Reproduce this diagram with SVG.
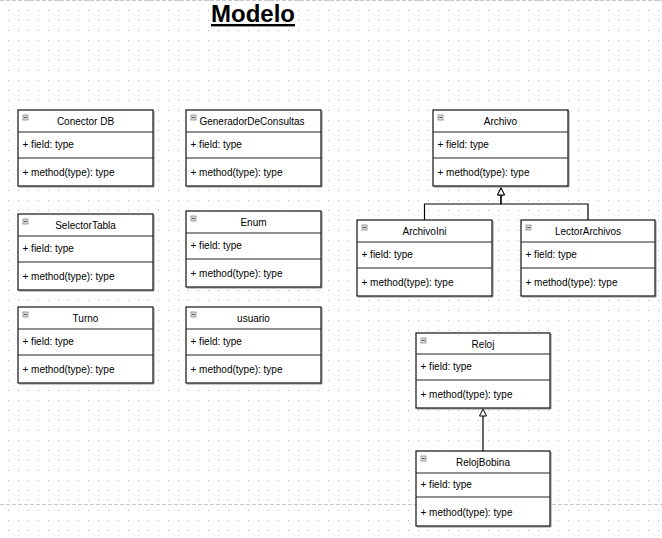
<svg xmlns="http://www.w3.org/2000/svg" width="662" height="538" viewBox="0 0 662 538">
<style>
.box{fill:#fff;stroke:#111;stroke-width:1.2}
.shadow{fill:none;stroke:#8c8c8c;stroke-width:1}
.sep{stroke:#222;stroke-width:1}
.ico{fill:#dcdcdc;stroke:#8a8a8a;stroke-width:0.8}
.icol{stroke:#5a5a5a;stroke-width:1}
.name{font-family:"Liberation Sans",Arial,sans-serif;font-size:10px;fill:#000;text-anchor:middle}
.mem{font-family:"Liberation Sans",Arial,sans-serif;font-size:10px;fill:#000}
.conn{fill:none;stroke:#000;stroke-width:1.2}
.dash{stroke:#c8c8c8;stroke-width:1;stroke-dasharray:4 2}
</style>
<defs>
<pattern id="grid" x="8" y="0" width="10" height="10" patternUnits="userSpaceOnUse">
<rect x="0" y="0" width="1" height="1" fill="#b4b4b4"/>
</pattern>
<marker id="gen" viewBox="0 0 8 8" refX="8" refY="4" markerWidth="8" markerHeight="8" markerUnits="userSpaceOnUse" orient="auto">
<path d="M0.5,0.5 L7.5,4 L0.5,7.5 Z" fill="#fff" stroke="#000" stroke-width="1"/>
</marker>
</defs>
<rect width="662" height="538" fill="#fff"/>
<rect width="662" height="538" fill="url(#grid)"/>
<line class="dash" x1="0" y1="0.5" x2="662" y2="0.5"/>
<line class="dash" x1="0" y1="504.5" x2="662" y2="504.5"/>
<text x="253" y="22" font-family="'Liberation Sans',Arial,sans-serif" font-size="24" font-weight="bold" text-anchor="middle" text-decoration="underline">Modelo</text>

<g id="connectors">
<path class="conn" d="M424.5,220 V204 H501 V187.5" marker-end="url(#gen)"/>
<path class="conn" d="M588,220 V204 H501 V187.5" marker-end="url(#gen)"/>
<path class="conn" d="M483,451 V408.5" marker-end="url(#gen)"/>
</g>

<g id="ConectorDB">
<polyline class="shadow" points="154,111 154,187 19,187"/>
<rect class="box" x="18" y="110" width="135" height="76"/>
<line class="sep" x1="18" y1="132" x2="153" y2="132"/><line class="sep" x1="18" y1="158" x2="153" y2="158"/>
<rect class="ico" x="23" y="115" width="5" height="5"/><line class="icol" x1="24" y1="117.5" x2="27" y2="117.5"/>
<text class="name" x="85.5" y="125">Conector DB</text>
<text class="mem" x="22.5" y="148">+ field: type</text>
<text class="mem" x="22.5" y="176">+ method(type): type</text>
</g>

<g id="GeneradorDeConsultas">
<polyline class="shadow" points="322,111 322,187 187,187"/>
<rect class="box" x="186" y="110" width="135" height="76"/>
<line class="sep" x1="186" y1="132" x2="321" y2="132"/><line class="sep" x1="186" y1="158" x2="321" y2="158"/>
<rect class="ico" x="191" y="115" width="5" height="5"/><line class="icol" x1="192" y1="117.5" x2="195" y2="117.5"/>
<text class="name" x="252" y="125">GeneradorDeConsultas</text>
<text class="mem" x="190.5" y="148">+ field: type</text>
<text class="mem" x="190.5" y="176">+ method(type): type</text>
</g>

<g id="SelectorTabla">
<polyline class="shadow" points="154,215 154,291 19,291"/>
<rect class="box" x="18" y="214" width="135" height="76"/>
<line class="sep" x1="18" y1="236" x2="153" y2="236"/><line class="sep" x1="18" y1="262" x2="153" y2="262"/>
<rect class="ico" x="23" y="219" width="5" height="5"/><line class="icol" x1="24" y1="221.5" x2="27" y2="221.5"/>
<text class="name" x="85.5" y="229">SelectorTabla</text>
<text class="mem" x="22.5" y="252">+ field: type</text>
<text class="mem" x="22.5" y="280">+ method(type): type</text>
</g>

<g id="Enum">
<polyline class="shadow" points="322,212 322,288 187,288"/>
<rect class="box" x="186" y="211" width="135" height="76"/>
<line class="sep" x1="186" y1="233" x2="321" y2="233"/><line class="sep" x1="186" y1="259" x2="321" y2="259"/>
<rect class="ico" x="191" y="216" width="5" height="5"/><line class="icol" x1="192" y1="218.5" x2="195" y2="218.5"/>
<text class="name" x="253.5" y="226">Enum</text>
<text class="mem" x="190.5" y="249">+ field: type</text>
<text class="mem" x="190.5" y="277">+ method(type): type</text>
</g>

<g id="Turno">
<polyline class="shadow" points="154,308 154,384 19,384"/>
<rect class="box" x="18" y="307" width="135" height="76"/>
<line class="sep" x1="18" y1="329" x2="153" y2="329"/><line class="sep" x1="18" y1="355" x2="153" y2="355"/>
<rect class="ico" x="23" y="312" width="5" height="5"/><line class="icol" x1="24" y1="314.5" x2="27" y2="314.5"/>
<text class="name" x="85.5" y="322">Turno</text>
<text class="mem" x="22.5" y="345">+ field: type</text>
<text class="mem" x="22.5" y="373">+ method(type): type</text>
</g>

<g id="usuario">
<polyline class="shadow" points="322,308 322,384 187,384"/>
<rect class="box" x="186" y="307" width="135" height="76"/>
<line class="sep" x1="186" y1="329" x2="321" y2="329"/><line class="sep" x1="186" y1="355" x2="321" y2="355"/>
<rect class="ico" x="191" y="312" width="5" height="5"/><line class="icol" x1="192" y1="314.5" x2="195" y2="314.5"/>
<text class="name" x="253.5" y="322">usuario</text>
<text class="mem" x="190.5" y="345">+ field: type</text>
<text class="mem" x="190.5" y="373">+ method(type): type</text>
</g>

<g id="Archivo">
<polyline class="shadow" points="569,111 569,187 434,187"/>
<rect class="box" x="433" y="110" width="135" height="76"/>
<line class="sep" x1="433" y1="132" x2="568" y2="132"/><line class="sep" x1="433" y1="158" x2="568" y2="158"/>
<rect class="ico" x="438" y="115" width="5" height="5"/><line class="icol" x1="439" y1="117.5" x2="442" y2="117.5"/>
<text class="name" x="500.5" y="125">Archivo</text>
<text class="mem" x="437.5" y="148">+ field: type</text>
<text class="mem" x="437.5" y="176">+ method(type): type</text>
</g>

<g id="ArchivoIni">
<polyline class="shadow" points="493,221 493,297 358,297"/>
<rect class="box" x="357" y="220" width="135" height="76"/>
<line class="sep" x1="357" y1="242" x2="492" y2="242"/><line class="sep" x1="357" y1="268" x2="492" y2="268"/>
<rect class="ico" x="362" y="225" width="5" height="5"/><line class="icol" x1="363" y1="227.5" x2="366" y2="227.5"/>
<text class="name" x="424.5" y="235">ArchivoIni</text>
<text class="mem" x="361.5" y="258">+ field: type</text>
<text class="mem" x="361.5" y="286">+ method(type): type</text>
</g>

<g id="LectorArchivos">
<polyline class="shadow" points="656,221 656,297 522,297"/>
<rect class="box" x="521" y="220" width="134" height="76"/>
<line class="sep" x1="521" y1="242" x2="655" y2="242"/><line class="sep" x1="521" y1="268" x2="655" y2="268"/>
<rect class="ico" x="526" y="225" width="5" height="5"/><line class="icol" x1="527" y1="227.5" x2="530" y2="227.5"/>
<text class="name" x="588" y="235">LectorArchivos</text>
<text class="mem" x="525.5" y="258">+ field: type</text>
<text class="mem" x="525.5" y="286">+ method(type): type</text>
</g>

<g id="Reloj">
<polyline class="shadow" points="551,334 551,409 417,409"/>
<rect class="box" x="416" y="333" width="134" height="75"/>
<line class="sep" x1="416" y1="354" x2="550" y2="354"/><line class="sep" x1="416" y1="380" x2="550" y2="380"/>
<rect class="ico" x="421" y="338" width="5" height="5"/><line class="icol" x1="422" y1="340.5" x2="425" y2="340.5"/>
<text class="name" x="483" y="348">Reloj</text>
<text class="mem" x="420.5" y="370">+ field: type</text>
<text class="mem" x="420.5" y="398">+ method(type): type</text>
</g>

<g id="RelojBobina">
<polyline class="shadow" points="551,452 551,527 417,527"/>
<rect class="box" x="416" y="451" width="134" height="75"/>
<line class="sep" x1="416" y1="473" x2="550" y2="473"/><line class="sep" x1="416" y1="497" x2="550" y2="497"/>
<rect class="ico" x="421" y="456" width="5" height="5"/><line class="icol" x1="422" y1="458.5" x2="425" y2="458.5"/>
<text class="name" x="483" y="466">RelojBobina</text>
<text class="mem" x="420.5" y="488">+ field: type</text>
<text class="mem" x="420.5" y="516">+ method(type): type</text>
</g>
</svg>
